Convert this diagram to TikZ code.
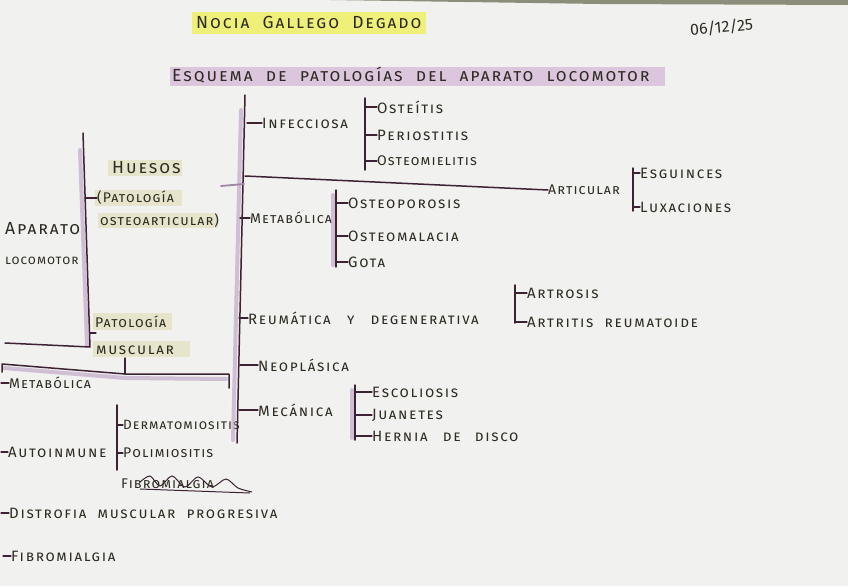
\documentclass[tikz,border=0pt]{standalone}
\usepackage{fontspec}
\setmainfont{Fira Sans}
\newfontfamily\hw[LetterSpace=11,WordSpace=2]{Fira Sans}
\newfontfamily\hws[LetterSpace=8,WordSpace=2]{Fira Sans}
\usetikzlibrary{calc}
\definecolor{ink}{HTML}{2E2C22}
\definecolor{plum}{HTML}{3D2233}
\definecolor{lav}{HTML}{B99CC2}
\definecolor{paper}{HTML}{F1F1EF}
\definecolor{hlyel}{HTML}{EEF07A}
\definecolor{hlpur}{HTML}{DCC6DE}
\definecolor{hlbeige}{HTML}{E6E5CC}
\definecolor{edge}{HTML}{8C8E7A}
\tikzset{
  txt/.style={font=\hw\fontsize{15}{17}\selectfont\scshape, text=ink, inner sep=0pt, anchor=west},
  txts/.style={txt, font=\hws\fontsize{14}{16}\selectfont\scshape},
  big/.style={txt, font=\hw\fontsize{17.5}{19}\selectfont\scshape},
  ln/.style={draw=plum, line width=1.5pt, line cap=round, line join=round},
  tk/.style={draw=plum, line width=1.2pt, line cap=round},
  shd/.style={draw=lav, line width=4pt, opacity=0.6, line cap=round},
  lavln/.style={draw=lav!80!plum, line width=1.8pt, line cap=round},
  hl/.style={fill=#1, draw=none}
}
\begin{document}
\begin{tikzpicture}[x=1pt,y=-1pt]
\fill[paper] (0,0) rectangle (848,586);
\useasboundingbox (0,0) rectangle (848,586);
\fill[edge] (330,0) -- (848,0) -- (848,5) -- (600,4) -- cycle;
% header
\fill[hlyel] (192,12) rectangle (426,34);
\node[big] (name) at (196,22) {Nocia Gallego Degado};
\node[font=\fontsize{16}{18}\selectfont, text=ink, rotate=5, anchor=west, inner sep=0pt] (date) at (690,30) {06/12/25};
\fill[hlpur] (170,67) rectangle (665,86);
\node[big] (title) at (172,75) {Esquema de patologías del aparato locomotor};
% Aparato locomotor
\node[big] (apa) at (5,229) {Aparato};
\node[txts, font=\hws\fontsize{13}{15}\selectfont\scshape] (loc) at (5,261) {locomotor};
\coordinate (at) at (83,133);
\coordinate (ab) at (90,347);
\coordinate (al) at (5,343);
\draw[shd] (80,150) -- (87,345);
\draw[ln] (at) -- (ab) -- (al);
% Huesos
\fill[hl=hlbeige] (108,160) rectangle (182,176);
\fill[hl=hlbeige] (95,190) rectangle (182,206);
\fill[hl=hlbeige] (98,213) rectangle (218,228);
\node[big] (hue) at (112,168) {Huesos};
\node[txts] (pat) at (97,198) {(Patología};
\node[txts] (ost) at (100,221) {osteoarticular)};
\draw[tk] (85,198) -- (pat.west);
% Patologia muscular
\fill[hl=hlbeige] (93,313) rectangle (172,330);
\fill[hl=hlbeige] (93,341) rectangle (190,357);
\node[txts] (pm1) at (95,322) {Patología};
\node[txt] (pm2) at (96,350) {muscular};
\draw[tk] (90,333) -- (96,333);
\coordinate (mu1) at (125,358);
\coordinate (mu2) at (125,374);
\draw[ln] (mu1) -- (mu2);
\draw[shd] (4,368) -- (125,378) -- (226,379);
\draw[ln] (2,372) -- (2,364) -- (mu2) -- (229,374) -- (229,388);
% left list
\coordinate (lx) at (1,0);
\node[txts] (metL) at (9,383) {Metabólica};
\node[txt] (aut) at (8,452) {Autoinmune};
\node[txt] (dis) at (9,513) {Distrofia muscular progresiva};
\node[txt] (fib) at (11,556) {Fibromialgia};
\draw[tk] (lx |- metL.west) -- (metL.west);
\draw[tk] (lx |- aut.west) -- (aut.west);
\draw[tk] (lx |- dis.west) -- (dis.west);
\draw[tk] (3,556) -- (fib.west);
\coordinate (ba) at (117,405);
\coordinate (bb) at (117,470);
\draw[ln] (ba) -- (bb);
\node[txts, font=\hws\fontsize{13.5}{15}\selectfont\scshape] (der) at (123,425) {Dermatomiositis};
\node[txts] (pol) at (123,453) {Polimiositis};
\node[txts] (fbx) at (121,484) {Fibromialgia};
\draw[tk] (ba |- der.west) -- (der.west);
\draw[tk] (ba |- pol.west) -- (pol.west);
\draw[plum, line width=1pt] plot[smooth] coordinates {(140,482) (150,476) (160,486) (172,476) (185,487) (198,477) (212,487) (226,479) (238,488) (252,492)};
\draw[plum, line width=1pt] (140,489) -- (250,493);
% main vertical
\coordinate (mt) at (245,95);
\coordinate (mb) at (237,443);
\draw[shd] (241,110) -- (233,440);
\draw[ln] (mt) -- (mb);
\coordinate (hx) at (221,186);
\draw[lavln] (hx) -- (244,184);
% Infecciosa
\node[txt] (inf) at (262,123) {Infecciosa};
\draw[tk] (247,123) -- (inf.west);
\coordinate (bi) at (365,98);
\draw[ln] (bi) -- (365,170);
\node[txt] (i1) at (377,107) {Osteítis};
\node[txt] (i2) at (377,135) {Periostitis};
\node[txts] (i3) at (377,161) {Osteomielitis};
\draw[tk] (bi |- i1.west) -- (i1.west);
\draw[tk] (bi |- i2.west) -- (i2.west);
\draw[tk] (bi |- i3.west) -- (i3.west);
% Articular
\node[txts] (art) at (548,190) {Articular};
\draw[ln] (245,176) -- (art.west);
\coordinate (bar) at (633,168);
\draw[ln] (bar) -- (633,211);
\node[txt] (a1) at (640,173) {Esguinces};
\node[txt] (a2) at (640,207) {Luxaciones};
\draw[tk] (bar |- a1.west) -- (a1.west);
\draw[tk] (bar |- a2.west) -- (a2.west);
% Metabolica
\node[txts] (met) at (250,218) {Metabólica};
\draw[tk] (240,218) -- (met.west);
\coordinate (bm) at (336,190);
\draw[shd] (333,195) -- (333,265);
\draw[ln] (bm) -- (336,267);
\node[txt] (m1) at (348,203) {Osteoporosis};
\node[txt] (m2) at (348,236) {Osteomalacia};
\node[txt] (m3) at (348,262) {Gota};
\draw[tk] (bm |- m1.west) -- (m1.west);
\draw[tk] (bm |- m2.west) -- (m2.west);
\draw[tk] (bm |- m3.west) -- (m3.west);
% Reumatica
\node[txt] (reu) at (248,318) {Reumática\hspace{5pt} y\hspace{5pt} degenerativa};
\draw[tk] (239,318) -- (reu.west);
\coordinate (br) at (515,285);
\draw[ln] (br) -- (515,323);
\node[txt] (r1) at (527,293) {Artrosis};
\node[txt] (r2) at (527,322) {Artritis reumatoide};
\draw[tk] (br |- r1.west) -- (r1.west);
\draw[tk] (br |- r2.west) -- (r2.west);
% Neoplasica
\node[txt] (neo) at (258,365) {Neoplásica};
\draw[tk] (240,365) -- (neo.west);
% Mecanica
\node[txt] (mec) at (258,410) {Mecánica};
\draw[tk] (239,410) -- (mec.west);
\coordinate (bc) at (355,385);
\draw[shd] (352,390) -- (352,438);
\draw[ln] (bc) -- (355,440);
\node[txt] (c1) at (372,392) {Escoliosis};
\node[txt] (c2) at (372,415) {Juanetes};
\node[txt] (c3) at (372,436) {Hernia\hspace{4pt} de\hspace{3pt} disco};
\draw[tk] (bc |- c1.west) -- (c1.west);
\draw[tk] (bc |- c2.west) -- (c2.west);
\draw[tk] (bc |- c3.west) -- (c3.west);
\end{tikzpicture}
\end{document}
